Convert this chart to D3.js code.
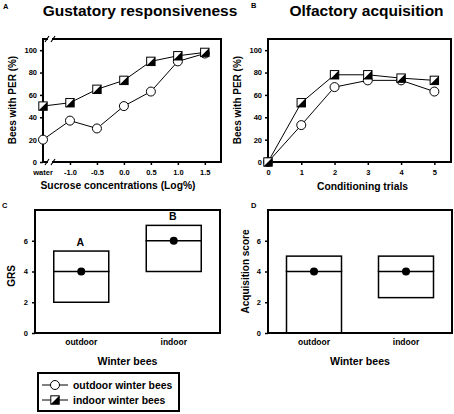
<!DOCTYPE html>
<html><head><meta charset="utf-8">
<script src="https://cdn.jsdelivr.net/npm/d3@7"></script>
<style>
body{margin:0;background:#fff}
svg{display:block}
text{font-family:"Liberation Sans",Arial,sans-serif;fill:#000}
</style>
</head><body>
<svg id="c" width="454" height="414"></svg>
<script>
// ---------- data ----------
const sucroseLabels = ["water","-1.0","-0.5","0.0","0.5","1.0","1.5"];
const sucroseX = [-1.5,-1.0,-0.5,0.0,0.5,1.0,1.5];
const gustOutdoor = [20,37,30,50,63,90,97];
const gustIndoor  = [50,53,65,73,90,95,98];
const trials = [0,1,2,3,4,5];
const olfOutdoor = [0,33,67,73,73,63];
const olfIndoor  = [0,53,78,78,75,73];
const perTicks = [0,20,40,60,80,100];
const groups = ["outdoor","indoor"];
const grsLow = [2,4], grsHigh = [5.33,7], grsMedian = [4,6], grsLetters = ["A","B"];
const acqLow = [0,2.3], acqHigh = [5,5], acqMedian = [4,4];
const scoreTicks = [0,2,4,6];
const seriesNames = ["outdoor winter bees","indoor winter bees"];

const svg = d3.select("#c");
const BOLD = "bold";

function line(g,x1,y1,x2,y2,w){
  g.append("line").attr("x1",x1).attr("y1",y1).attr("x2",x2).attr("y2",y2)
   .attr("stroke","#000").attr("stroke-width",w||2).attr("stroke-linecap","square");
}
function frame(x0,x1,y0,y1,breakX){
  const g = svg.append("g");
  line(g,x0,y0,x0,y1); line(g,x1,y0,x1,y1);
  if(breakX==null){ line(g,x0,y0,x1,y0); line(g,x0,y1,x1,y1); }
  else{
    [y0,y1].forEach(y=>{
      line(g,x0,y,breakX-3,y); line(g,breakX+3,y,x1,y);
      g.append("line").attr("x1",breakX-5).attr("y1",y+3).attr("x2",breakX-1).attr("y2",y-3).attr("stroke","#000").attr("stroke-width",1.2);
      g.append("line").attr("x1",breakX+1).attr("y1",y+3).attr("x2",breakX+5).attr("y2",y-3).attr("stroke","#000").attr("stroke-width",1.2);
    });
  }
}
function styleAxis(g,fs){
  g.select(".domain").remove();
  g.selectAll(".tick line").attr("stroke","#000").attr("stroke-width",1.5);
  g.selectAll(".tick text").attr("font-size",fs).attr("font-weight",BOLD).attr("fill","#000")
   .style("font-family","'Liberation Sans',Arial,sans-serif");
}
function txt(x,y,s,fs,anchor,weight,rot){
  const t = svg.append("text").attr("x",x).attr("y",y).text(s).attr("font-size",fs)
    .attr("font-weight",weight||BOLD).attr("text-anchor",anchor||"middle");
  if(rot) t.attr("transform",`rotate(${rot},${x},${y})`);
  return t;
}
function circleMarker(g,x,y){
  g.append("circle").attr("cx",x).attr("cy",y).attr("r",4.5).attr("fill","#fff").attr("stroke","#000").attr("stroke-width",1);
}
function squareMarker(g,x,y){
  const s=4.2;
  g.append("rect").attr("x",x-s).attr("y",y-s).attr("width",2*s).attr("height",2*s).attr("fill","#fff").attr("stroke","#000").attr("stroke-width",1);
  g.append("path").attr("d",`M${x+s},${y-s}L${x+s},${y+s}L${x-s},${y+s}Z`).attr("fill","#000");
}

// ---------- panel A ----------
const xA = d3.scaleLinear().domain([-1.5,1.8]).range([43,221]);
const yA = d3.scaleLinear().domain([0,110]).range([162,39]);
frame(43,221,39,162,50);
styleAxis(svg.append("g").attr("transform","translate(0,162)")
  .call(d3.axisBottom(xA).tickValues(sucroseX.slice(1)).tickFormat((d)=>sucroseLabels[sucroseX.indexOf(d)]).tickSize(3).tickPadding(4.5)),7.5);
txt(xA(-1.5),175,sucroseLabels[0],7.5);
styleAxis(svg.append("g").attr("transform","translate(43,0)")
  .call(d3.axisLeft(yA).tickValues(perTicks).tickSize(3).tickPadding(3)),7.5);
const gA = svg.append("g");
const lnA = d3.line().x((d,i)=>xA(sucroseX[i])).y(d=>yA(d));
gA.append("path").attr("d",lnA(gustOutdoor)).attr("fill","none").attr("stroke","#000").attr("stroke-width",1);
gA.append("path").attr("d",lnA(gustIndoor)).attr("fill","none").attr("stroke","#000").attr("stroke-width",1);
gustOutdoor.forEach((v,i)=>circleMarker(gA,xA(sucroseX[i]),yA(v)));
gustIndoor.forEach((v,i)=>squareMarker(gA,xA(sucroseX[i]),yA(v)));
txt(3,8.5,"A",7.5,"start");
txt(140,16,"Gustatory responsiveness",15.5);
txt(118,189,"Sucrose concentrations (Log%)",10.3);
txt(16,100,"Bees with PER (%)",10,"middle",BOLD,-90);

// ---------- panel B ----------
const xB = d3.scaleLinear().domain([0,5.5]).range([268,451]);
const yB = d3.scaleLinear().domain([0,110]).range([162,39]);
frame(268,451,39,162,null);
styleAxis(svg.append("g").attr("transform","translate(0,162)")
  .call(d3.axisBottom(xB).tickValues(trials).tickFormat(d3.format("d")).tickSize(3).tickPadding(4.5)),7.5);
styleAxis(svg.append("g").attr("transform","translate(268,0)")
  .call(d3.axisLeft(yB).tickValues(perTicks).tickSize(3).tickPadding(3)),7.5);
const gB = svg.append("g");
const lnB = d3.line().x((d,i)=>xB(trials[i])).y(d=>yB(d));
gB.append("path").attr("d",lnB(olfOutdoor)).attr("fill","none").attr("stroke","#000").attr("stroke-width",1);
gB.append("path").attr("d",lnB(olfIndoor)).attr("fill","none").attr("stroke","#000").attr("stroke-width",1);
olfOutdoor.forEach((v,i)=>circleMarker(gB,xB(trials[i]),yB(v)));
olfIndoor.forEach((v,i)=>squareMarker(gB,xB(trials[i]),yB(v)));
txt(251,8,"B",7.5,"start");
txt(366.5,16,"Olfactory acquisition",15.5);
txt(362.5,190,"Conditioning trials",10.3);
txt(241,100,"Bees with PER (%)",10,"middle",BOLD,-90);

// ---------- box panels ----------
function boxPanel(x0,x1,low,high,med,letters,ylab,ylabX,ylabY,panelLetter,plX){
  const y = d3.scaleLinear().domain([0,8]).range([333,210]);
  const x = d3.scalePoint().domain(groups).range([x0,x1]).padding(0.5);
  const g = svg.append("g");
  const bw = 55;
  groups.forEach((c,i)=>{
    g.append("rect").attr("x",x(c)-bw/2).attr("y",y(high[i])).attr("width",bw)
      .attr("height",y(low[i])-y(high[i])).attr("fill","#fff").attr("stroke","#000").attr("stroke-width",1.5);
    line(g,x(c)-bw/2,y(med[i]),x(c)+bw/2,y(med[i]),1.5);
    g.append("circle").attr("cx",x(c)).attr("cy",y(med[i])).attr("r",4).attr("fill","#000");
    if(letters) txt(x(c)-1,y(high[i])-5.5,letters[i],10.5);
    txt(x(c),345,c,8.5);
  });
  frame(x0,x1,210,333,null);
  styleAxis(svg.append("g").attr("transform",`translate(${x0},0)`)
    .call(d3.axisLeft(y).tickValues(scoreTicks).tickSize(3).tickPadding(4)),7.5);
  txt((x0+x1)/2,365,"Winter bees",10.6);
  txt(ylabX,ylabY,ylab,10,"middle",BOLD,-90);
  txt(plX,208,panelLetter,7.5,"start");
}
boxPanel(35,220,grsLow,grsHigh,grsMedian,grsLetters,"GRS",15,276,"C",2);
boxPanel(268,452,acqLow,acqHigh,acqMedian,null,"Acquisition score",248.5,271.5,"D",251);

// ---------- legend ----------
const lg = svg.append("g");
lg.append("rect").attr("x",38).attr("y",373).attr("width",141).attr("height",38)
  .attr("fill","#fff").attr("stroke","#000").attr("stroke-width",2);
[385,400].forEach((yy,i)=>{
  lg.append("line").attr("x1",42).attr("x2",68).attr("y1",yy).attr("y2",yy).attr("stroke","#000").attr("stroke-width",1);
  if(i===0) circleMarker(lg,55,yy); else squareMarker(lg,55,yy);
  txt(73,yy+3.8,seriesNames[i],10.4,"start");
});
</script>
</body></html>
